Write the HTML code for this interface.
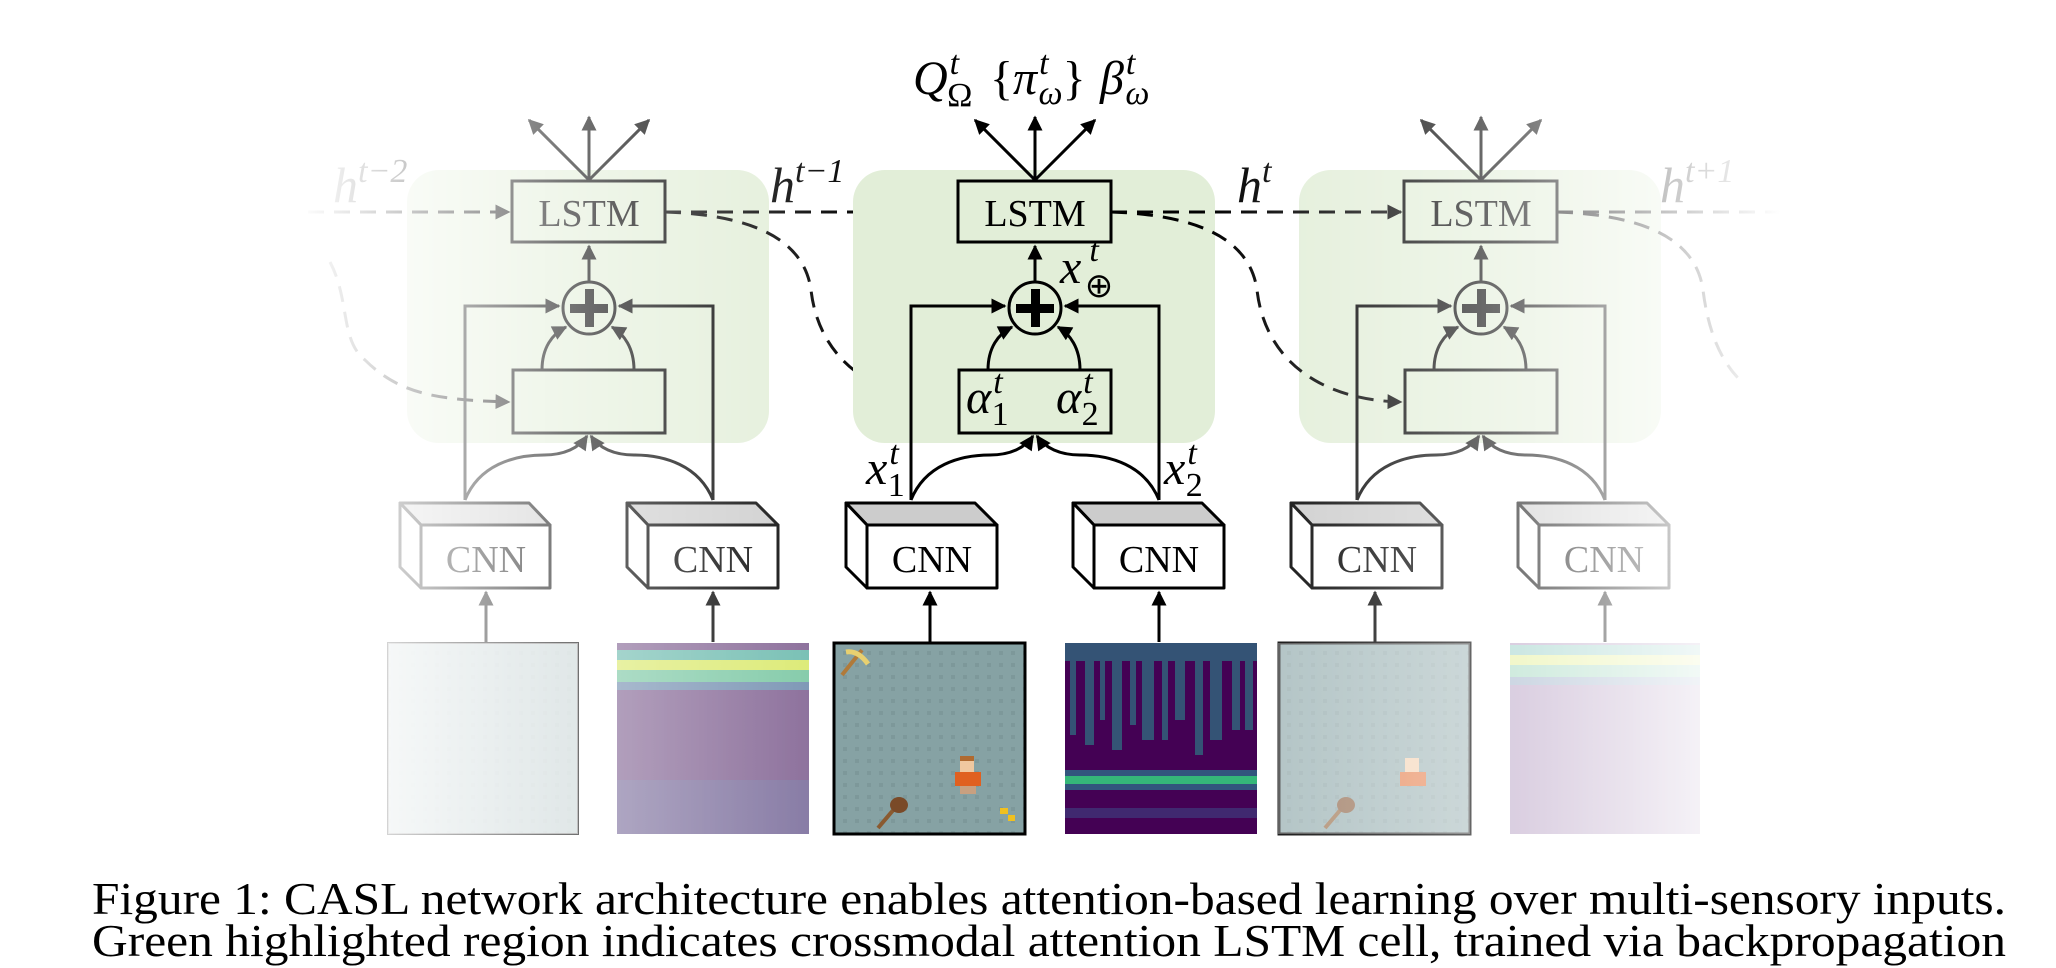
<!DOCTYPE html>
<html><head><meta charset="utf-8"><style>
html,body{margin:0;padding:0;background:#fff;width:2056px;height:968px;overflow:hidden}
svg{display:block}
.m{font-family:"Liberation Serif",serif;font-style:italic}
.r{font-family:"Liberation Serif",serif}
</style></head><body>
<svg width="2056" height="968" viewBox="0 0 2056 968" xmlns="http://www.w3.org/2000/svg">
<defs>
<marker id="ah" viewBox="0 0 10 10" refX="9" refY="5" markerWidth="5" markerHeight="5" orient="auto"><path d="M0,0L10,5L0,10z" fill="#000"/></marker>
<linearGradient id="gl" gradientUnits="userSpaceOnUse" x1="300" y1="0" x2="880" y2="0"><stop offset="0" stop-color="#000"/><stop offset="0.12" stop-color="#222"/><stop offset="0.45" stop-color="#888"/><stop offset="1" stop-color="#fff"/></linearGradient>
<linearGradient id="gr" gradientUnits="userSpaceOnUse" x1="1200" y1="0" x2="1780" y2="0"><stop offset="0" stop-color="#fff"/><stop offset="0.55" stop-color="#888"/><stop offset="0.88" stop-color="#222"/><stop offset="1" stop-color="#000"/></linearGradient>
<mask id="ml" maskUnits="userSpaceOnUse" x="0" y="0" width="2056" height="968"><rect width="2056" height="968" fill="url(#gl)"/></mask>
<mask id="mr" maskUnits="userSpaceOnUse" x="0" y="0" width="2056" height="968"><rect width="2056" height="968" fill="url(#gr)"/></mask>
<pattern id="dots" width="12" height="12" patternUnits="userSpaceOnUse"><rect width="12" height="12" fill="#86a2a4"/><rect x="3" y="3" width="4" height="4" fill="#7d989a"/></pattern>
</defs>

<!-- LEFT CELL -->
<g mask="url(#ml)">
<rect x="407" y="170" width="362" height="273" rx="32" fill="#e2eed8"/>
<g fill="none" stroke="#000" stroke-width="3">
<path d="M230,212H509" stroke-dasharray="16 10" marker-end="url(#ah)"/>
<path d="M330,262C350,300 340,340 365,360C400,395 440,400 509,402" stroke-dasharray="16 10" marker-end="url(#ah)"/>
<rect x="512" y="181" width="153" height="61"/>
<path d="M589,180L529,120" marker-end="url(#ah)"/><path d="M589,180V117" marker-end="url(#ah)"/><path d="M589,180L649,120" marker-end="url(#ah)"/>
<path d="M589,282V246" marker-end="url(#ah)"/>
<circle cx="589" cy="308" r="26"/>
<path d="M465,500V306H559" marker-end="url(#ah)"/><path d="M713,500V306H619" marker-end="url(#ah)"/>
<rect x="513" y="370" width="152" height="63"/>
<path d="M542,370C542,348 552,334 566,327" marker-end="url(#ah)"/><path d="M634,370C634,348 624,334 612,327" marker-end="url(#ah)"/>
<path d="M465,500C479,465 514,455 544,455C564,455 579,448 587,436" marker-end="url(#ah)"/>
<path d="M713,500C699,465 664,455 634,455C614,455 599,448 591,436" marker-end="url(#ah)"/>
<path d="M486,642V592" marker-end="url(#ah)"/><path d="M713,642V592" marker-end="url(#ah)"/>
<path d="M665,212H955" stroke-dasharray="16 10" marker-end="url(#ah)"/>
<path d="M665,212C754,215 804,240 811,290C819,360 874,400 955,402" stroke-dasharray="16 10" marker-end="url(#ah)"/>
</g>
<rect x="570" y="304" width="38" height="9" fill="#000"/><rect x="585" y="289" width="9" height="38" fill="#000"/>
<g stroke="#000" stroke-width="3" stroke-linejoin="round">
<polygon points="400,503 529,503 550,525 421,525" fill="#ccc"/><polygon points="400,503 421,525 421,588 400,567" fill="#fff"/><rect x="421" y="525" width="129" height="63" fill="#fff"/>
<polygon points="627,503 756,503 778,525 648,525" fill="#ccc"/><polygon points="627,503 648,525 648,588 627,567" fill="#fff"/><rect x="648" y="525" width="130" height="63" fill="#fff"/>
</g>
<text x="589" y="226" class="r" font-size="38" text-anchor="middle">LSTM</text>
<text x="486" y="572" class="r" font-size="38" text-anchor="middle">CNN</text>
<text x="713" y="572" class="r" font-size="38" text-anchor="middle">CNN</text>
<text x="333" y="202" class="m" font-size="50">h<tspan font-size="34" dy="-20">t−2</tspan></text>
<text x="770" y="202" class="m" font-size="50">h<tspan font-size="34" dy="-20">t−1</tspan></text>
<rect x="388" y="643" width="190" height="191" fill="url(#dots)" stroke="#000" stroke-width="2"/>
<rect x="617" y="643" width="192" height="191" fill="#4b1f63"/>
<rect x="617" y="650" width="192" height="12" fill="#2c9c8a"/><rect x="617" y="660" width="192" height="12" fill="#c9df2a"/><rect x="617" y="670" width="192" height="12" fill="#3fae7a"/><rect x="617" y="682" width="192" height="8" fill="#345c8c"/>
<rect x="617" y="780" width="192" height="54" fill="#3a3f80" opacity="0.5"/>
</g>

<!-- CENTER CELL -->
<rect x="853" y="170" width="362" height="273" rx="32" fill="#e2eed8"/>
<g fill="none" stroke="#000" stroke-width="3">
<rect x="958" y="181" width="153" height="61"/>
<path d="M1035,180L975,120" marker-end="url(#ah)"/><path d="M1035,180V117" marker-end="url(#ah)"/><path d="M1035,180L1095,120" marker-end="url(#ah)"/>
<path d="M1035,282V246" marker-end="url(#ah)"/>
<circle cx="1035" cy="308" r="26"/>
<path d="M911,500V306H1005" marker-end="url(#ah)"/><path d="M1159,500V306H1065" marker-end="url(#ah)"/>
<rect x="959" y="370" width="152" height="63"/>
<path d="M988,370C988,348 998,334 1012,327" marker-end="url(#ah)"/><path d="M1080,370C1080,348 1070,334 1058,327" marker-end="url(#ah)"/>
<path d="M911,500C925,465 960,455 990,455C1010,455 1025,448 1033,436" marker-end="url(#ah)"/>
<path d="M1159,500C1145,465 1110,455 1080,455C1060,455 1045,448 1037,436" marker-end="url(#ah)"/>
<path d="M930,642V592" marker-end="url(#ah)"/><path d="M1159,642V592" marker-end="url(#ah)"/>
</g>
<rect x="1016" y="304" width="38" height="9" fill="#000"/><rect x="1031" y="289" width="9" height="38" fill="#000"/>
<g stroke="#000" stroke-width="3" stroke-linejoin="round">
<polygon points="846,503 975,503 997,525 867,525" fill="#ccc"/><polygon points="846,503 867,525 867,588 846,567" fill="#fff"/><rect x="867" y="525" width="130" height="63" fill="#fff"/>
<polygon points="1073,503 1202,503 1224,525 1094,525" fill="#ccc"/><polygon points="1073,503 1094,525 1094,588 1073,567" fill="#fff"/><rect x="1094" y="525" width="130" height="63" fill="#fff"/>
</g>
<text x="1035" y="226" class="r" font-size="38" text-anchor="middle">LSTM</text>
<text x="932" y="572" class="r" font-size="38" text-anchor="middle">CNN</text>
<text x="1159" y="572" class="r" font-size="38" text-anchor="middle">CNN</text>
<text x="913" y="94" class="m" font-size="48">Q<tspan font-size="34" dx="2" dy="-20">t</tspan><tspan font-size="34" font-style="normal" dx="-12" dy="32">Ω</tspan></text>
<text x="990" y="94" class="m" font-size="48"><tspan font-style="normal">{</tspan>π<tspan font-size="34" dx="2" dy="-20">t</tspan><tspan font-size="34" dx="-10" dy="30">ω</tspan><tspan font-style="normal" dy="-10">}</tspan></text>
<text x="1100" y="94" class="m" font-size="48">β<tspan font-size="34" dx="2" dy="-20">t</tspan><tspan font-size="34" dx="-10" dy="30">ω</tspan></text>
<text x="1060" y="283" class="m" font-size="48">x<tspan font-size="34" dx="8" dy="-22">t</tspan><tspan font-size="34" font-style="normal" dx="-14" dy="36">⊕</tspan></text>
<text x="966" y="413" class="m" font-size="48">α<tspan font-size="34" dx="2" dy="-20">t</tspan><tspan font-size="34" font-style="normal" dx="-11" dy="32">1</tspan></text>
<text x="1056" y="413" class="m" font-size="48">α<tspan font-size="34" dx="2" dy="-20">t</tspan><tspan font-size="34" font-style="normal" dx="-11" dy="32">2</tspan></text>
<text x="866" y="484" class="m" font-size="48">x<tspan font-size="34" dx="2" dy="-20">t</tspan><tspan font-size="34" font-style="normal" dx="-11" dy="32">1</tspan></text>
<text x="1164" y="484" class="m" font-size="48">x<tspan font-size="34" dx="2" dy="-20">t</tspan><tspan font-size="34" font-style="normal" dx="-11" dy="32">2</tspan></text>
<rect x="834" y="643" width="191" height="191" fill="url(#dots)" stroke="#000" stroke-width="3"/>
<path d="M842,675L862,650" stroke="#b07a3a" stroke-width="4"/><path d="M846,652Q858,650 868,664" stroke="#e8d070" stroke-width="5" fill="none"/>
<rect x="960" y="758" width="14" height="14" fill="#f0c8a0"/><rect x="960" y="756" width="14" height="5" fill="#b06a30"/><rect x="955" y="772" width="26" height="14" fill="#e06020"/><rect x="960" y="786" width="16" height="8" fill="#c8a080"/>
<path d="M878,828L895,808" stroke="#8a5a30" stroke-width="4"/><ellipse cx="899" cy="805" rx="9" ry="8" fill="#7a4a28"/>
<rect x="1000" y="808" width="8" height="6" fill="#f0c020"/><rect x="1008" y="815" width="7" height="6" fill="#f0c020"/>
<rect x="1065" y="643" width="192" height="191" fill="#440154"/>
<g fill="#2a8a8c" opacity="0.6">
<rect x="1065" y="643" width="192" height="18"/>
<rect x="1070" y="655" width="6" height="80"/><rect x="1085" y="650" width="9" height="95"/><rect x="1100" y="660" width="5" height="60"/><rect x="1112" y="650" width="10" height="100"/><rect x="1130" y="655" width="6" height="70"/><rect x="1142" y="650" width="12" height="90"/><rect x="1162" y="660" width="6" height="80"/><rect x="1175" y="650" width="10" height="70"/><rect x="1195" y="655" width="8" height="100"/><rect x="1210" y="650" width="12" height="90"/><rect x="1232" y="660" width="8" height="70"/><rect x="1245" y="650" width="8" height="80"/>
</g>
<rect x="1065" y="770" width="192" height="20" fill="#2b7a8e" opacity="0.7"/>
<rect x="1065" y="776" width="192" height="8" fill="#35b779"/>
<rect x="1065" y="808" width="192" height="10" fill="#3b528b" opacity="0.5"/>

<!-- RIGHT CELL -->
<g mask="url(#mr)">
<rect x="1299" y="170" width="362" height="273" rx="32" fill="#e2eed8"/>
<g fill="none" stroke="#000" stroke-width="3">
<path d="M1111,212H1401" stroke-dasharray="16 10" marker-end="url(#ah)"/>
<path d="M1111,212C1200,215 1250,240 1257,290C1265,360 1320,400 1401,402" stroke-dasharray="16 10" marker-end="url(#ah)"/>
<rect x="1404" y="181" width="153" height="61"/>
<path d="M1481,180L1421,120" marker-end="url(#ah)"/><path d="M1481,180V117" marker-end="url(#ah)"/><path d="M1481,180L1541,120" marker-end="url(#ah)"/>
<path d="M1481,282V246" marker-end="url(#ah)"/>
<circle cx="1481" cy="308" r="26"/>
<path d="M1357,500V306H1451" marker-end="url(#ah)"/><path d="M1605,500V306H1511" marker-end="url(#ah)"/>
<rect x="1405" y="370" width="152" height="63"/>
<path d="M1434,370C1434,348 1444,334 1458,327" marker-end="url(#ah)"/><path d="M1526,370C1526,348 1516,334 1504,327" marker-end="url(#ah)"/>
<path d="M1357,500C1371,465 1406,455 1436,455C1456,455 1471,448 1479,436" marker-end="url(#ah)"/>
<path d="M1605,500C1591,465 1556,455 1526,455C1506,455 1491,448 1483,436" marker-end="url(#ah)"/>
<path d="M1375,642V592" marker-end="url(#ah)"/><path d="M1605,642V592" marker-end="url(#ah)"/>
<path d="M1557,212H1900" stroke-dasharray="16 10"/>
<path d="M1557,212C1646,215 1696,240 1703,290C1708,330 1720,360 1740,380" stroke-dasharray="16 10"/>
</g>
<rect x="1462" y="304" width="38" height="9" fill="#000"/><rect x="1477" y="289" width="9" height="38" fill="#000"/>
<g stroke="#000" stroke-width="3" stroke-linejoin="round">
<polygon points="1291,503 1420,503 1442,525 1312,525" fill="#ccc"/><polygon points="1291,503 1312,525 1312,588 1291,567" fill="#fff"/><rect x="1312" y="525" width="130" height="63" fill="#fff"/>
<polygon points="1518,503 1647,503 1669,525 1539,525" fill="#ccc"/><polygon points="1518,503 1539,525 1539,588 1518,567" fill="#fff"/><rect x="1539" y="525" width="130" height="63" fill="#fff"/>
</g>
<text x="1481" y="226" class="r" font-size="38" text-anchor="middle">LSTM</text>
<text x="1377" y="572" class="r" font-size="38" text-anchor="middle">CNN</text>
<text x="1604" y="572" class="r" font-size="38" text-anchor="middle">CNN</text>
<text x="1237" y="202" class="m" font-size="50">h<tspan font-size="34" dy="-20">t</tspan></text>
<text x="1660" y="202" class="m" font-size="50">h<tspan font-size="34" dy="-20">t+1</tspan></text>
<rect x="1279" y="643" width="191" height="191" fill="url(#dots)" stroke="#000" stroke-width="3"/>
<rect x="1405" y="758" width="14" height="14" fill="#f0c8a0"/><rect x="1400" y="772" width="26" height="14" fill="#e06020"/>
<path d="M1325,828L1342,808" stroke="#8a5a30" stroke-width="4"/><ellipse cx="1346" cy="805" rx="9" ry="8" fill="#7a4a28"/>
<rect x="1510" y="643" width="190" height="191" fill="#6a3a84"/>
<rect x="1510" y="645" width="190" height="12" fill="#2c9c8a"/><rect x="1510" y="655" width="190" height="12" fill="#c9df2a"/><rect x="1510" y="665" width="190" height="12" fill="#3fae7a"/><rect x="1510" y="677" width="190" height="8" fill="#345c8c"/>
</g>
<rect x="1278" y="643" width="192" height="191" fill="#fff" opacity="0.3"/>
<rect x="1510" y="643" width="190" height="191" fill="#fff" opacity="0.55"/>
<rect x="388" y="643" width="190" height="191" fill="#fff" opacity="0.55"/>
<rect x="617" y="643" width="192" height="191" fill="#fff" opacity="0.3"/>

<text x="92" y="914" class="r" font-size="46" textLength="1914" lengthAdjust="spacingAndGlyphs">Figure 1: CASL network architecture enables attention-based learning over multi-sensory inputs.</text>
<text x="92" y="956" class="r" font-size="46" textLength="1914" lengthAdjust="spacingAndGlyphs">Green highlighted region indicates crossmodal attention LSTM cell, trained via backpropagation</text>
</svg>
</body></html>
